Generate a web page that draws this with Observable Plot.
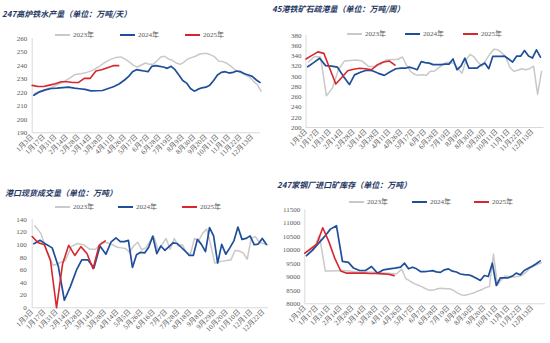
<!DOCTYPE html>
<html>
<head>
<meta charset="utf-8">
<script src="https://cdn.jsdelivr.net/npm/d3@7"></script>
<script src="https://cdn.jsdelivr.net/npm/@observablehq/plot@0.6"></script>
<style>
  html,body{margin:0;padding:0;background:#fff;}
  #wrap{position:relative;width:550px;height:343px;overflow:hidden;background:#fff;}
  .panel{position:absolute;}
  .panel svg{position:absolute;left:0;top:0;overflow:visible;}
  .title{position:absolute;white-space:nowrap;font-family:"Noto Sans CJK SC",sans-serif;font-weight:700;font-style:italic;font-size:8px;line-height:10px;color:#1f3864;}
  .leg{position:absolute;white-space:nowrap;font-family:"Liberation Serif","Noto Sans CJK SC",serif;font-size:7px;line-height:8px;color:#595959;}
  .leg i{position:absolute;height:2px;}
  .leg span{position:absolute;top:0;}
</style>
</head>
<body>
<div id="wrap"></div>
<script>
// ---------- tick labels ----------
const ticksA = ["1月3日","1月17日","1月31日","2月14日","2月28日","3月14日","3月28日","4月11日","4月26日","5月17日","6月7日","6月28日","7月19日","8月9日","8月30日","9月20日","10月11日","11月1日","11月22日","12月13日"];
const ticksC = ["1月3日","1月17日","1月31日","2月14日","2月28日","3月14日","3月28日","4月14日","5月5日","5月26日","6月16日","7月7日","7月28日","8月18日","9月8日","9月29日","10月20日","11月10日","12月1日","12月22日"];

// ---------- series (weekly values) ----------
const seriesNames = ["2023年","2024年","2025年"];
const seriesStart = ["2023-01-06","2024-01-05","2025-01-03"];

// 247高炉铁水产量
const p1_2023 = [219.5,221,222.5,224,226,228,230.5,233.5,234,235,236.5,239,242,244.5,246,246.5,244.5,242.5,240,239,240.5,242,241,241,243.5,246.5,247,245,244,242,241,242.5,245,246,247,248.5,249,249,248,246.5,243.5,243,242,240,237.5,235.5,234.5,233,231.5,228.5,226,221];
const p1_2024 = [218,220.5,222,223,223.3,223.7,224,223.3,222.8,222.3,221.2,221.3,221.5,223,224.5,226.5,229.5,232,235.5,237,236.5,236,235.5,239.5,240,239.5,239,238,239.5,237,233,229,227,223,221,222.5,223.5,224,225.5,229,233,235,235.5,234.5,235,236,235.5,234,233,232,229.5,227.5];
const p1_2025 = [225.3,224.5,224.5,225.5,226.5,228,228,227.5,227.5,230.5,230.5,236,237,238.5,240,240];

// 45港铁矿石疏港量
const p2_2023 = [328,339,338,262,277,313,330,331,332,330,320,319,323,332,333,333,338,322,310,304,302,303,302,310,310,316,322,327,327,325,315,306,332,343,338,328,320,332,344,353,352,346,338,318,310,312,315,313,315,320,265,310];
const p2_2024 = [319,327,335.5,321,320,318,300,284,303,308,312,311,306,302,309,315,316,316,318,316,313,329,327,326,323,323,323,324,324,334,313,320,335.5,316,316,316,322,326,315,339,339,339,339.5,334,328,339.5,339.5,350.6,340,336,352,337.5];
const p2_2025 = [334,341,348,345,315,285,298,311,314,316,315,313,323,328,330,322];

// 港口现货成交量
const p3_2023 = [130,118,90,67,71,75,97,102,100,93,93,104,103,100,96,95,94,88,98,104,92,95,105,113,92,100,110,93,110,98,100,88,85,110,106,118,125,100,71,73,74,75,76,91,90,87,77,110,113,104,102,100];
const p3_2024 = [101.6,107,100.6,95,66,12,34,60,76,76,63,98,85,104,111,105,105,107,64,84,88,87,96,113.7,86,98,91,97,103,102,96,90,83,83,108.5,100.6,89,127,114,71,100.6,85,95,106,128,108.5,110,114,100,101,110,100.6];
const p3_2025 = [113,103,100,75,0,70,99,83,97,86,62,99,106];

// 247家钢厂进口矿库存
const p4_2023 = [9850,10000,10550,9220,9220,9230,9240,9220,9190,9180,9180,9178,9160,9145,9130,9120,9290,8950,8850,8760,8700,8640,8560,8500,8510,8560,8580,8560,8560,8500,8400,8330,8320,8360,8400,8470,8520,8600,8650,9850,8700,8900,9040,9020,9000,9020,9050,9150,9310,9400,9470,9530];
const p4_2024 = [9790,10000,10250,10500,10780,10910,9580,9540,9330,9240,9240,9389,9141,9265,9302,9330,9364,9513,9302,9364,9302,9200,9195,9213,9233,9190,9170,9265,9300,9215,9185,9110,9085,9080,9030,8950,8868,9054,9017,9513,8681,8967,8967,8967,9030,9141,9079,9240,9320,9400,9490,9600];
const p4_2025 = [9885,10050,10220,10830,10325,9700,9220,9141,9141,9141,9141,9128,9128,9116,9103,9050];

// ---------- helpers ----------
const COLORS = {"2023年":"#c9c9c9","2024年":"#1f4e9b","2025年":"#d7262d"};
const WIDTHS = {"2023年":1.5,"2024年":1.7,"2025年":1.6};
const DAY = 864e5;
function dayOfYear(m, d){ return (Date.UTC(2025, m - 1, d) - Date.UTC(2025, 0, 1)) / DAY; }
function labelDay(s){ const m = s.match(/(\d+)月(\d+)日/); return dayOfYear(+m[1], +m[2]); }
function weekly(start, values){
  const t0 = Date.parse(start + "T00:00:00Z");
  return values.map((v, n) => {
    const dt = new Date(t0 + n * 7 * DAY);
    return {x: dayOfYear(dt.getUTCMonth() + 1, dt.getUTCDate()), y: v};
  });
}

const panels = [
  {left:0, top:0, width:275, height:170, mt:38.3, mb:37.7, L:31.7, S:11.58, right:260,
   labels:ticksA, yDomain:[190,260], yStep:10, data:[p1_2023,p1_2024,p1_2025],
   title:"247高炉铁水产量（单位：万吨/天）", tx:2, ty:9, legY:35, leg:[55,120,185], pad:5},
  {left:275, top:0, width:275, height:170, mt:35, mb:43, L:30.5, S:11.92, right:268.5,
   labels:ticksA, yDomain:[200,380], yStep:20, data:[p2_2023,p2_2024,p2_2025],
   title:"45港铁矿石疏港量（单位：万吨/周）", tx:-3, ty:3.5, legY:34, leg:[72,130,188], pad:4.5},
  {left:0, top:170, width:275, height:173, mt:49, mb:35.7, L:31.7, S:12.17, right:268,
   labels:ticksC, yDomain:[0,140], yStep:20, data:[p3_2023,p3_2024,p3_2025],
   title:"港口现货成交量（单位：万吨）", tx:5, ty:18, legY:37.3, leg:[55,118,182], pad:5.5},
  {left:275, top:170, width:275, height:173, mt:39.3, mb:39.7, L:29.3, S:11.97, right:270,
   labels:ticksA, yDomain:[8000,11500], yStep:500, data:[p4_2023,p4_2024,p4_2025],
   title:"247家钢厂进口矿库存（单位：万吨）", tx:2, ty:10, legY:32.3, leg:[74,137,199], pad:4.5}
];

const wrap = document.getElementById("wrap");

for (const p of panels) {
  const div = document.createElement("div");
  div.className = "panel";
  Object.assign(div.style, {left: p.left + "px", top: p.top + "px", width: p.width + "px", height: p.height + "px"});
  wrap.appendChild(div);

  const tickDays = p.labels.map(labelDay);
  const labelMap = new Map(tickDays.map((d, i) => [d, p.labels[i]]));
  const knots = [...tickDays, tickDays[tickDays.length - 1] + 21];
  const range = knots.map((_, k) => p.L + k * p.S);
  const yTicks = d3.range(p.yDomain[0], p.yDomain[1] + p.yStep / 2, p.yStep);

  const lines = p.data.map((vals, i) => {
    const name = seriesNames[i];
    return Plot.line(weekly(seriesStart[i], vals), {
      x: "x", y: "y", stroke: COLORS[name], strokeWidth: WIDTHS[name],
      strokeLinejoin: "round", strokeLinecap: "round"
    });
  });

  const svg = Plot.plot({
    width: p.width, height: p.height,
    marginLeft: p.L, marginRight: p.width - p.right, marginTop: p.mt, marginBottom: p.mb,
    style: {fontFamily: '"Liberation Serif","Noto Sans CJK SC",serif', fontSize: "7px", color: "#595959", background: "transparent", overflow: "visible"},
    x: {type: "linear", domain: knots, range, ticks: tickDays, tickFormat: d => labelMap.get(d) ?? "",
        tickRotate: -45, tickSize: 0, tickPadding: 3, label: null},
    y: {domain: p.yDomain, ticks: yTicks, tickSize: 0, tickPadding: p.pad, label: null, tickFormat: d => String(d)},
    marks: [
      Plot.ruleY([p.yDomain[0]], {stroke: "#d9d9d9", strokeWidth: 1}),
      Plot.ruleX([knots[0]], {stroke: "#d9d9d9", strokeWidth: 1}),
      ...lines
    ]
  });
  div.appendChild(svg);

  // title
  const t = document.createElement("div");
  t.className = "title";
  t.textContent = p.title;
  Object.assign(t.style, {left: p.tx + "px", top: p.ty + "px"});
  div.appendChild(t);

  // legend
  const leg = document.createElement("div");
  leg.className = "leg";
  Object.assign(leg.style, {left: "0px", top: (p.legY - 4) + "px", width: p.width + "px", height: "8px"});
  seriesNames.forEach((name, i) => {
    const sw = document.createElement("i");
    Object.assign(sw.style, {left: p.leg[i] + "px", top: "3px", width: "15px", background: COLORS[name]});
    leg.appendChild(sw);
    const tx = document.createElement("span");
    tx.textContent = name;
    tx.style.left = (p.leg[i] + 18) + "px";
    leg.appendChild(tx);
  });
  div.appendChild(leg);
}
</script>
</body>
</html>
